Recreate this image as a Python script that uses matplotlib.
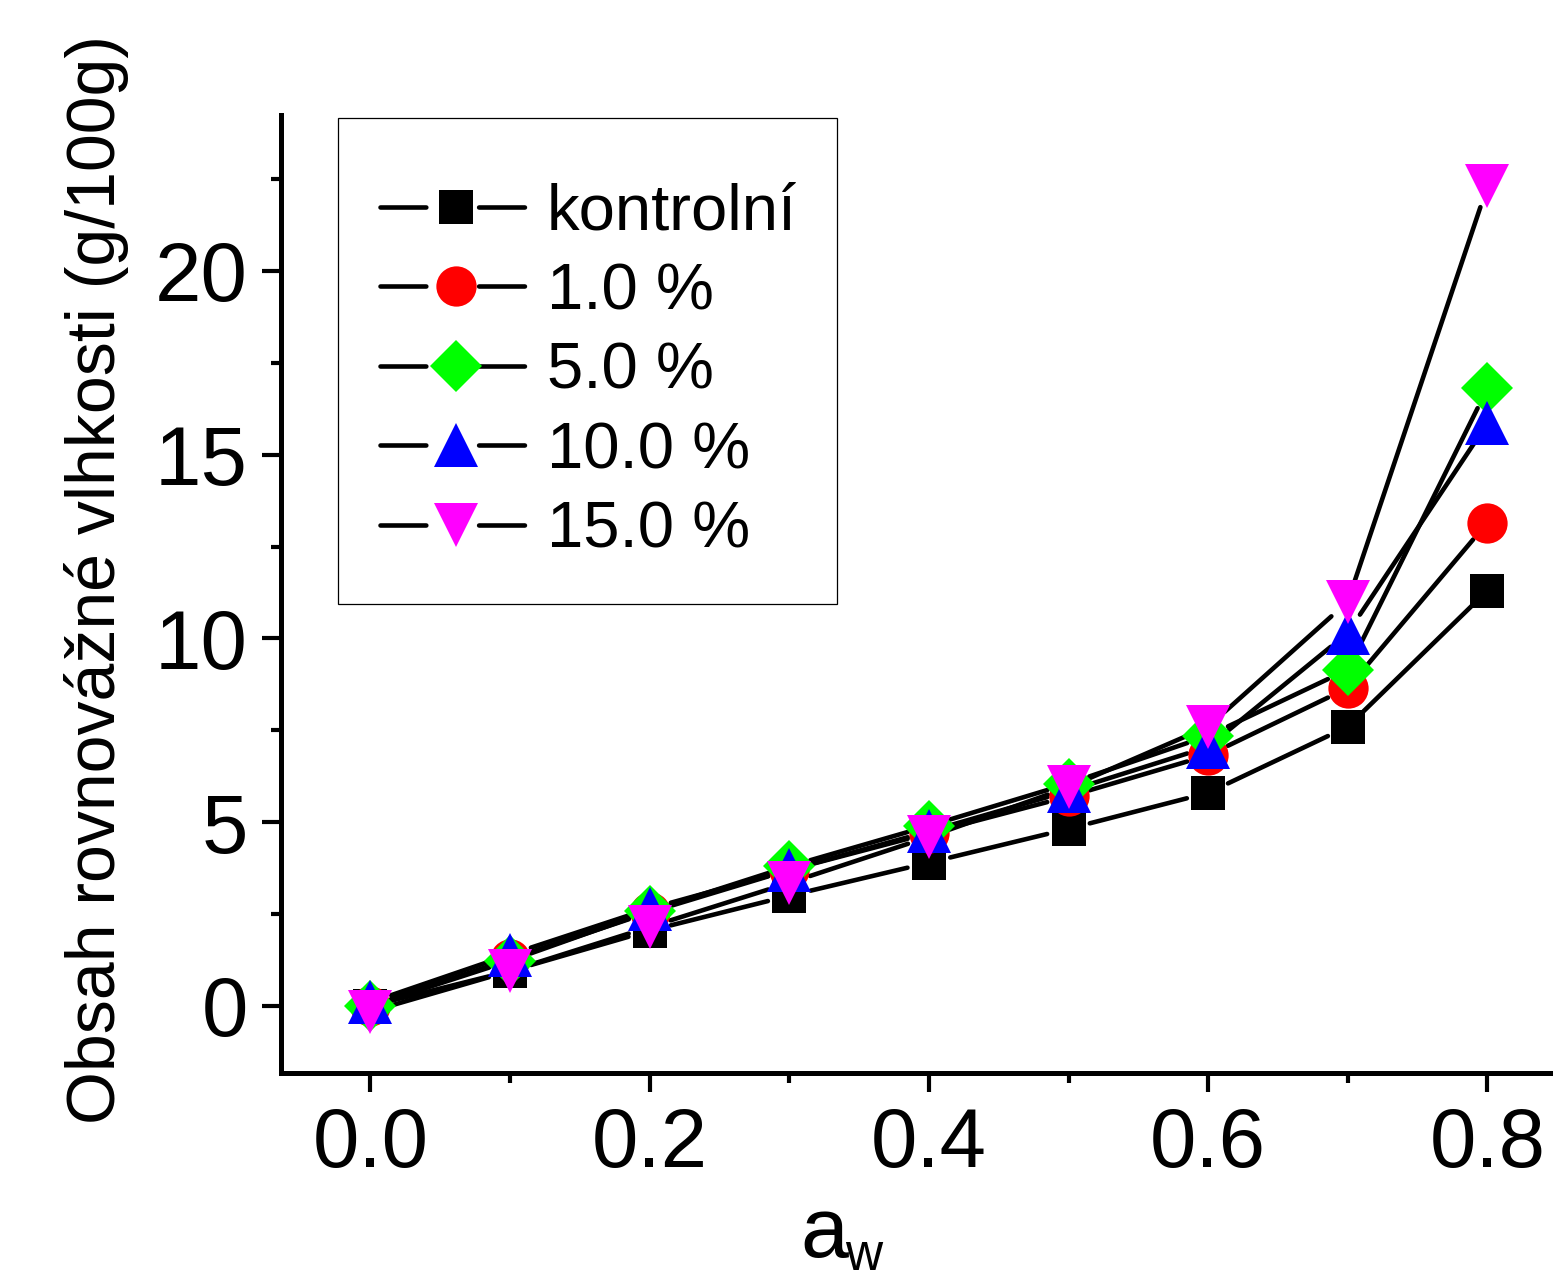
#! /usr/bin/env python3
# -*- coding: utf-8 -*-
import numpy as np
import matplotlib
matplotlib.use('AGG')
import matplotlib.pyplot as plt
from matplotlib.lines import Line2D
from matplotlib.patches import Rectangle
from matplotlib.legend_handler import HandlerTuple
from matplotlib.ticker import MultipleLocator

OUT_FILE = 'out.png'

# aktivita vody
A_W = [0.0, 0.1, 0.2, 0.3, 0.4, 0.5, 0.6, 0.7, 0.8]

# obsah rovnovazne vlhkosti (g/100g)
KONTROLNI = [0.0, 0.95, 2.05, 3.0, 3.9, 4.82, 5.8, 7.6, 11.3]
P1 = [0.0, 1.28, 2.55, 3.7, 4.7, 5.7, 6.82, 8.65, 13.15]
P5 = [0.0, 1.23, 2.58, 3.8, 4.9, 6.05, 7.35, 9.15, 16.8]
P10 = [0.1, 1.4, 2.65, 3.7, 4.75, 5.85, 7.05, 10.15, 15.85]
P15 = [-0.15, 0.95, 2.15, 3.35, 4.6, 5.95, 7.6, 11.0, 22.3]

LABELS = ['kontrolní', '1.0 %', '5.0 %', '10.0 %', '15.0 %']

COLORS = ['black', '#ff0000', '#00ff00', '#0000ff', '#ff00ff']
MARKERS = ['s', 'o', 'D', '^', 'v']
MSIZES = [25, 29, 26, 31, 31]
LW = 3.3
GAP = 22  # px mezera mezi carou a znackou (jako v Originu)

W, H = 1553, 1286

plt.rcParams['font.family'] = ['Liberation Sans', 'DejaVu Sans']
plt.rcParams['lines.scale_dashes'] = False


def gapped_line(ax, x, y):
	pts = ax.transData.transform(np.column_stack([x, y]))
	inv = ax.transData.inverted()
	for p0, p1 in zip(pts[:-1], pts[1:]):
		d = p1 - p0
		L = np.hypot(d[0], d[1])
		if L <= 2 * GAP:
			continue
		u = d / L
		seg = inv.transform(np.array([p0 + u * GAP, p1 - u * GAP]))
		ax.plot(seg[:, 0], seg[:, 1], color='black', lw=LW,
				solid_capstyle='round', zorder=2)


def main():
	fig = plt.figure(figsize=(W / 100, H / 100), dpi=100)
	ax = fig.add_axes([281 / W, 213 / H, 1279 / W, 958 / H])
	ax.set_xlim(-0.064, 0.852)
	ax.set_ylim(-1.823, 24.24)

	series = [KONTROLNI, P1, P5, P10, P15]
	for s in series:
		gapped_line(ax, A_W, s)

	handles = []
	for s, c, m, ms in zip(series, COLORS, MARKERS, MSIZES):
		ax.plot(A_W, s, linestyle='none', marker=m, markersize=ms,
				color=c, markeredgewidth=0, zorder=3)
		ln = Line2D([], [], color='black', lw=LW, dashes=(33, 38),
					dash_capstyle='round')
		mk = Line2D([], [], linestyle='none', marker=m, markersize=ms,
					color=c, markeredgewidth=0)
		handles.append((ln, mk))

	# ramecek legendy zvlast, aby sedel presne
	fig.patches.append(Rectangle((338 / W, 1 - 604 / H), 499 / W, 486 / H,
								 transform=fig.transFigure, fill=False,
								 edgecolor='black', linewidth=0.9, zorder=5))
	ax.legend(handles, LABELS, handler_map={tuple: HandlerTuple(ndivide=1)},
			  loc='upper left', bbox_to_anchor=(338 / W, 1 - 140 / H),
			  bbox_transform=fig.transFigure, borderaxespad=0,
			  fontsize=47, handlelength=2.3, handletextpad=0.25,
			  labelspacing=0.3, borderpad=0.65, frameon=False, numpoints=1)

	for side in ['top', 'right']:
		ax.spines[side].set_visible(False)
	for side in ['left', 'bottom']:
		ax.spines[side].set_linewidth(3.6)

	ax.xaxis.set_minor_locator(MultipleLocator(0.1))
	ax.yaxis.set_minor_locator(MultipleLocator(2.5))
	ax.set_xticks([0.0, 0.2, 0.4, 0.6, 0.8])
	ax.set_xticklabels(['0.0', '0.2', '0.4', '0.6', '0.8'])
	ax.set_yticks([0, 5, 10, 15, 20])
	ax.tick_params(which='major', direction='out', length=14, width=3,
				   labelsize=60)
	ax.tick_params(which='minor', direction='out', length=7, width=3)
	ax.tick_params(axis='x', pad=10)
	ax.tick_params(axis='y', pad=10)

	fig.text(97 / W, 1 - 580 / H, 'Obsah rovnovážné vlhkosti (g/100g)',
			 rotation=90, ha='center', va='center', fontsize=49)
	# a_w: dolni index posazeny nize jako v originale (ale cely v obrazku)
	fig.text(800 / W, (H - 1257) / H, 'a', ha='left', va='baseline', fontsize=62)
	fig.text(845 / W, (H - 1270) / H, 'w', ha='left', va='baseline', fontsize=37)

	fig.savefig(OUT_FILE, dpi=100)
	plt.close(fig)


if __name__ == '__main__':
	main()
